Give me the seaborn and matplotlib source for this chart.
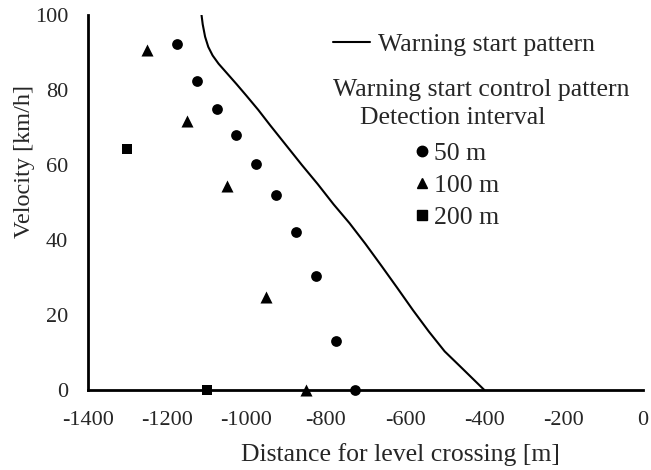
import matplotlib
matplotlib.use("Agg")
import matplotlib.pyplot as plt
import seaborn as sns
import pandas as pd
from matplotlib.lines import Line2D

sns.set_style("white")
plt.rcParams['font.family'] = ['Liberation Serif', 'DejaVu Serif']
plt.rcParams['axes.unicode_minus'] = False

# warning start pattern (curve)
pattern_x = [-1113, -1110, -1104, -1096, -1085, -1070, -1050, -1025, -1000, -970, -940,
             -900, -860, -820, -780, -740, -700, -660, -620, -580, -540, -500, -460, -430, -400]
pattern_y = [100, 97.5, 94.2, 91.5, 89.2, 87.0, 84.6, 81.6, 78.5, 74.7, 70.6,
             65.3, 60.0, 54.9, 49.5, 44.5, 39.0, 33.2, 27.3, 21.3, 15.6, 10.3, 6.2, 3.1, 0]

# warning start control pattern, by detection interval
x_50 = [-1175, -1125, -1075, -1025, -975, -925, -875, -825, -775, -725]
y_50 = [92.2, 82.4, 75.0, 68.1, 60.2, 52.0, 42.1, 30.4, 13.2, 0]
x_100 = [-1250, -1150, -1050, -950, -850]
y_100 = [90.7, 71.8, 54.4, 24.7, 0]
x_200 = [-1300, -1100]
y_200 = [64.3, 0]

df_pat = pd.DataFrame({'x': pattern_x, 'y': pattern_y})
df_pts = pd.concat([
    pd.DataFrame({'x': x_50, 'y': y_50, 'interval': '50 m'}),
    pd.DataFrame({'x': x_100, 'y': y_100, 'interval': '100 m'}),
    pd.DataFrame({'x': x_200, 'y': y_200, 'interval': '200 m'}),
])

fig = plt.figure(figsize=(6.51, 4.70), dpi=100)
ax = fig.add_axes([0.1347, 0.1702, 0.8530, 0.7979])

sns.lineplot(data=df_pat, x='x', y='y', color='black', linewidth=1.5, ax=ax, sort=False)
markers = {'50 m': 'o', '100 m': '^', '200 m': 's'}
sizes = {'50 m': 60, '100 m': 75, '200 m': 60}
for k in ['50 m', '100 m', '200 m']:
    sub = df_pts[df_pts['interval'] == k]
    sns.scatterplot(data=sub, x='x', y='y', marker=markers[k], s=sizes[k],
                    color='black', edgecolor='black', linewidth=0, ax=ax,
                    clip_on=False, zorder=5)

ax.set_xlim(-1400, 0)
ax.set_ylim(0, 100)
ax.set_xticks(range(-1400, 1, 200))
ax.set_yticks(range(0, 101, 20))
for s in ['top', 'right']:
    ax.spines[s].set_visible(False)
for s in ['left', 'bottom']:
    ax.spines[s].set_linewidth(2.0)
    ax.spines[s].set_color('black')
ax.tick_params(axis='both', direction='in', length=4.5, width=1.2, color='black', labelsize=16)
ax.tick_params(axis='y', pad=14)
ax.tick_params(axis='x', pad=15)

ax.set_xlabel('Distance for level crossing [m]', fontsize=18.5)
ax.set_ylabel('Velocity [km/h]', fontsize=17.5)
ax.xaxis.label.set_va('center')
ax.yaxis.label.set_va('center')
ax.xaxis.set_label_coords(0.563, -0.173)
ax.yaxis.set_label_coords(-0.113, 0.608)

# legend: line
h_line = Line2D([], [], color='black', linewidth=1.5)
leg1 = ax.legend([h_line], ['Warning start pattern'], loc='center left',
                 bbox_to_anchor=(0.4417, 0.920), frameon=False, fontsize=18.5,
                 handlelength=1.44, handletextpad=0.31, borderaxespad=0, borderpad=0)
ax.add_artist(leg1)
ax.text(0.4417, 0.800, 'Warning start control pattern', transform=ax.transAxes,
        fontsize=18.5, va='center', ha='left')
ax.text(0.4903, 0.726, 'Detection interval', transform=ax.transAxes,
        fontsize=18.5, va='center', ha='left')

h_pts = [Line2D([], [], marker=markers[k], color='black', linestyle='none',
                markersize=7.5) for k in ['50 m', '100 m', '200 m']]
leg2 = ax.legend(h_pts, ['50 m', '100 m', '200 m'], loc='upper left',
                 bbox_to_anchor=(0.5876, 0.662), frameon=False, fontsize=18.5,
                 handlelength=0.6, handletextpad=0.16, labelspacing=0.35,
                 borderaxespad=0, borderpad=0)

fig.savefig('out.png', dpi=100)
